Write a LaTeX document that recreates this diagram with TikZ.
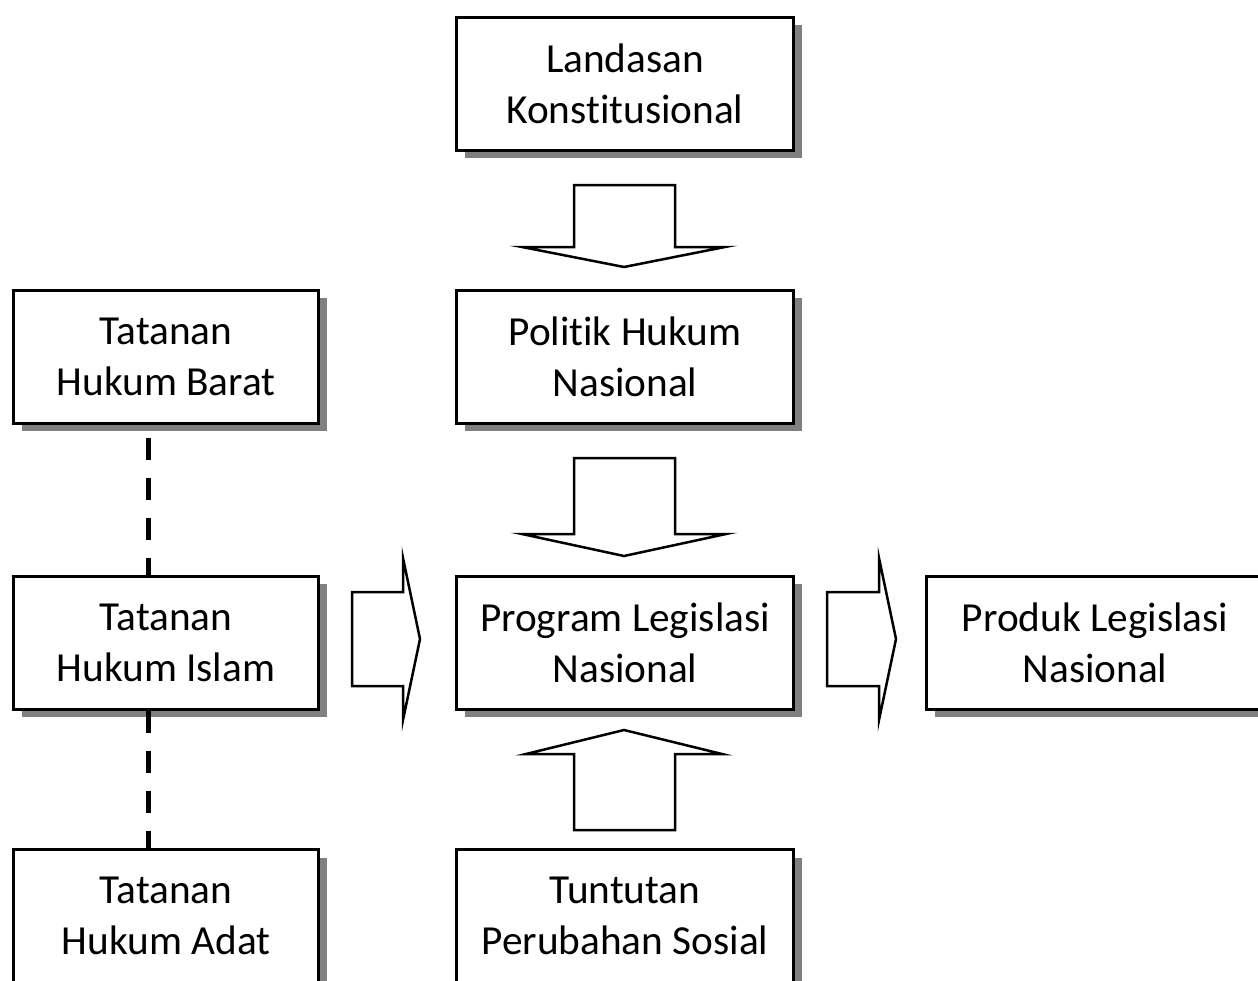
\documentclass[tikz,border=0pt]{standalone}
\usepackage{fontspec}
\setmainfont{Carlito}[Ligatures={NoCommon,NoRare,NoDiscretionary}]
\usetikzlibrary{shadows}
\begin{document}
\begin{tikzpicture}[x=1pt,y=-1pt,
  box/.style={draw=black,line width=3pt,fill=white,align=center,inner sep=0pt,
    minimum height=133pt,
    font=\fontsize{41.3}{51}\selectfont,
    drop shadow={shadow xshift=8pt,shadow yshift=-8pt,fill=black!50,opacity=1}},
  widebox/.style={box,minimum width=337pt},
  narrowbox/.style={box,minimum width=305pt},
  blockarrow/.style={draw=black,line width=2.5pt,fill=white,line join=miter,miter limit=20},
  dashline/.style={line width=5pt,dash pattern=on 22pt off 18pt}]
\useasboundingbox (0,0) rectangle (1258,980);
\begin{scope}
\clip (0,0) rectangle (1258,980);
\node[widebox] (land) at (625,83.5) {Landasan\\Konstitusional};
\node[widebox] (pol) at (625,356.5) {Politik Hukum\\Nasional};
\node[narrowbox] (barat) at (166,356.5) {Tatanan\\Hukum Barat};
\node[narrowbox] (islam) at (166,642.5) {Tatanan\\Hukum Islam};
\node[widebox] (prog) at (625,642.5) {Program Legislasi\\Nasional};
\node[widebox] (prod) at (1095,642.5) {Produk Legislasi\\Nasional};
\node[narrowbox] (adat) at (166,916) {Tatanan\\Hukum Adat};
\node[widebox] (tunt) at (625,916) {Tuntutan\\Perubahan Sosial};
\draw[dashline,dash phase=27pt] ([xshift=-18pt]barat.south) -- ([xshift=-18pt]islam.north);
\draw[dashline] ([xshift=-18pt]islam.south) -- ([xshift=-18pt]adat.north);
\end{scope}
% block arrows
\draw[blockarrow] (574,185) -- (675,185) -- (675,247) -- (725,247) -- (624,267) -- (522,247) -- (574,247) -- cycle;
\draw[blockarrow] (574,458) -- (675,458) -- (675,534) -- (726,534) -- (624,556) -- (522,534) -- (574,534) -- cycle;
\draw[blockarrow] (624,730) -- (722,754) -- (675,754) -- (675,830) -- (574,830) -- (574,754) -- (526,754) -- cycle;
\draw[blockarrow] (352,592) -- (403,592) -- (403,558) -- (420,639) -- (403,720) -- (403,686) -- (352,686) -- cycle;
\draw[blockarrow] (827,592) -- (879,592) -- (879,558) -- (896,639) -- (879,720) -- (879,686) -- (827,686) -- cycle;
\end{tikzpicture}
\end{document}
